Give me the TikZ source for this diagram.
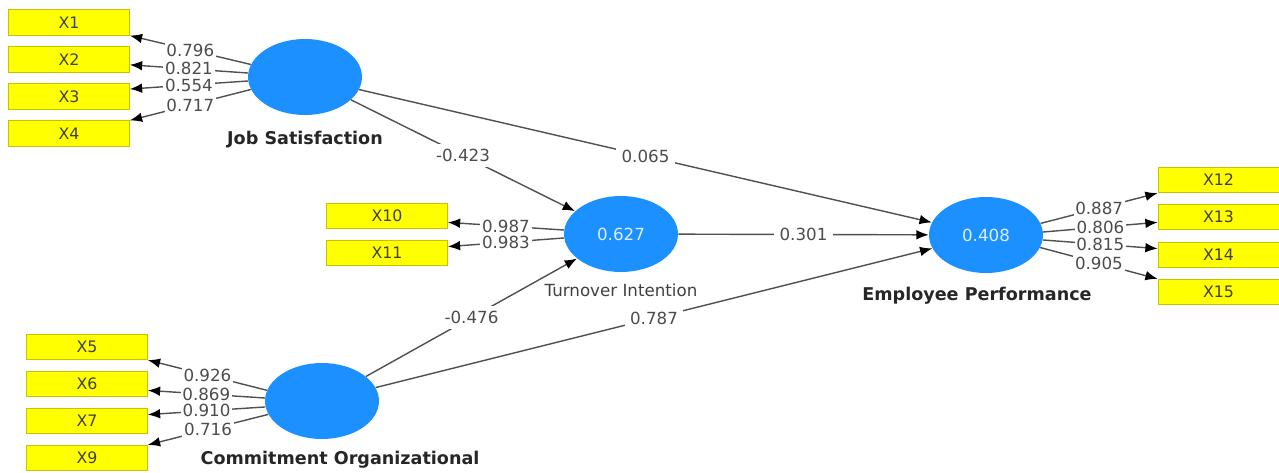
\documentclass[tikz,border=0pt]{standalone}
\usepackage{fontspec}
\setmainfont{DejaVu Sans}
\usetikzlibrary{shapes.geometric,arrows.meta}
\definecolor{lvblue}{RGB}{28,144,255}
\definecolor{mvyellow}{RGB}{255,255,0}
\definecolor{mvedge}{RGB}{196,196,0}
\definecolor{pathgray}{RGB}{80,80,80}

\begin{document}
\begin{tikzpicture}[x=0.02cm, y=-0.02cm,
	font=\fontsize{9.5}{11}\selectfont,
	mv/.style={rectangle, draw=mvedge, fill=mvyellow, line width=0.4pt,
		minimum width=2.42cm, minimum height=0.51cm, inner sep=0pt, text=black!75,
		font=\fontsize{9}{11}\selectfont},
	lv/.style={ellipse, fill=lvblue, minimum width=2.28cm, minimum height=1.52cm,
		inner sep=0pt, text=white!85!lvblue},
	lvname/.style={text=black!85, font=\fontsize{10}{12}\selectfont\bfseries},
	load/.style={draw=pathgray, line width=0.8pt, -{Latex[length=7pt,width=5.5pt,color=black]}},
	val/.style={fill=white, inner sep=1pt, text=black!70}]
		%%%%% START %%%%%
		\useasboundingbox (0,0) rectangle (1279,473);
		
		% latent variables
		\node[lv] (js) at (305,77) {};
		\node[lv] (ti) at (621,234) {0.627};
		\node[lv] (ep) at (986,235) {0.408};
		\node[lv] (co) at (322,401) {};
		
		\node[lvname] (jsname) at (305,140) {Job Satisfaction};
		\node[text=black!75] (tiname) at (621,290) {Turnover Intention};
		\node[lvname] (epname) at (977,296) {Employee Performance};
		\node[lvname] (coname) at (340,460) {Commitment Organizational};
		
		% indicators
		\node[mv] (x1) at (69,22.5) {X1};
		\node[mv] (x2) at (69,59.5) {X2};
		\node[mv] (x3) at (69,96.5) {X3};
		\node[mv] (x4) at (69,133.5) {X4};
		
		\node[mv] (x10) at (387,216) {X10};
		\node[mv] (x11) at (387,253) {X11};
		
		\node[mv] (x12) at (1218.5,180) {X12};
		\node[mv] (x13) at (1218.5,217) {X13};
		\node[mv] (x14) at (1218.5,255) {X14};
		\node[mv] (x15) at (1218.5,292) {X15};
		
		\node[mv] (x5) at (87,347) {X5};
		\node[mv] (x6) at (87,384) {X6};
		\node[mv] (x7) at (87,421) {X7};
		\node[mv] (x9) at (87,458) {X9};
		
		% outer loadings
		\draw[load] (js.167) -- node[val] {0.796} (x1.south east);
		\draw[load] (js.176) -- node[val] {0.821} (x2.-5);
		\draw[load] (js.184) -- node[val] {0.554} (x3.7);
		\draw[load] (js.193) -- node[val] {0.717} (x4.north east);
		
		\draw[load] (ti.176) -- node[val] {0.987} (x10.-6);
		\draw[load] (ti.184) -- node[val] {0.983} (x11.6);
		
		\draw[load] (ep.12) -- node[val] {0.887} (x12.south west);
		\draw[load] (ep.3) -- node[val] {0.806} (x13.185);
		\draw[load] (ep.-5) -- node[val] {0.815} (x14.174);
		\draw[load] (ep.-13) -- node[val] {0.905} (x15.north west);
		
		\draw[load] (co.169) -- node[val] {0.926} (x5.south east);
		\draw[load] (co.177) -- node[val] {0.869} (x6.-6);
		\draw[load] (co.186) -- node[val] {0.910} (x7.6);
		\draw[load] (co.194) -- node[val] {0.716} (x9.north east);
		
		% path coefficients
		\draw[load] (js) -- node[val, inner sep=3pt] {-0.423} (ti);
		\draw[load] (js) -- node[val, inner sep=3pt] {0.065} (ep);
		\draw[load] (ti) -- node[val, inner sep=3pt] {0.301} (ep);
		\draw[load] (co) -- node[val, inner sep=3pt] {-0.476} (ti);
		\draw[load] (co) -- node[val, inner sep=3pt] {0.787} (ep);
		
		%%%%% END %%%%%
\end{tikzpicture}
\end{document}
